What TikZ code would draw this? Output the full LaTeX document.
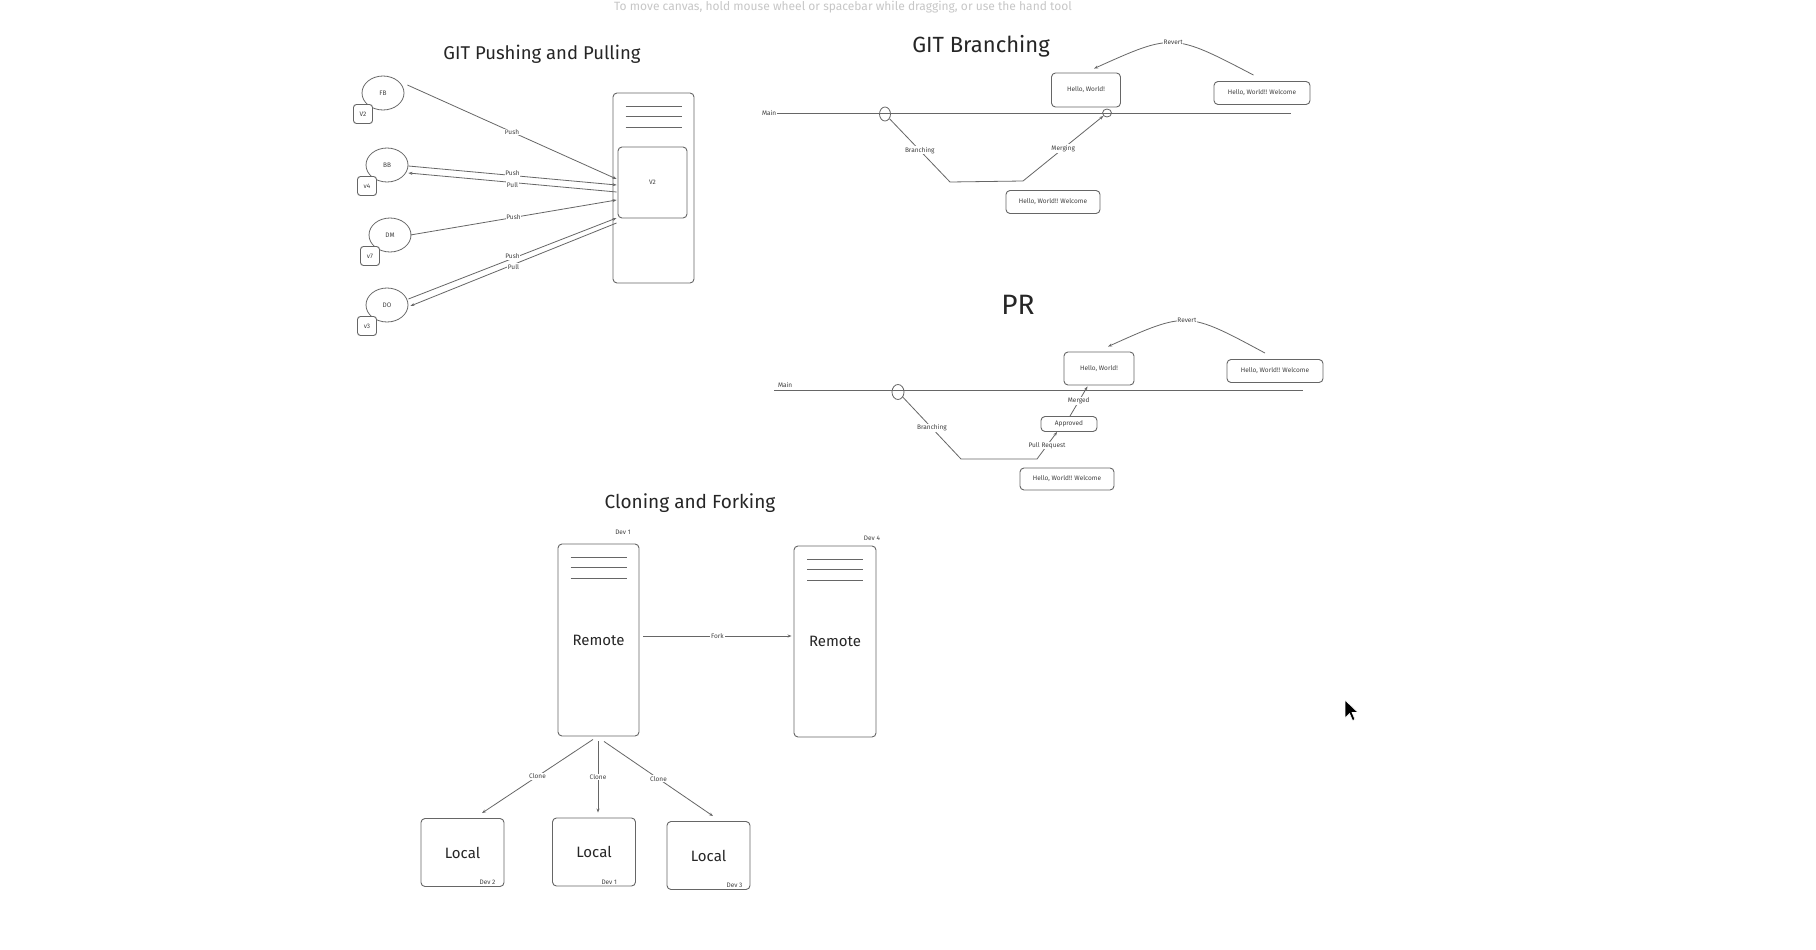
\documentclass[tikz,border=0pt]{standalone}
\usepackage{fontspec}
\setmainfont{Fira Sans}
\usetikzlibrary{calc, positioning, arrows.meta, shapes.geometric}

\tikzset{
    sketch/.style={draw=black!60, line width=0.9pt, rounded corners=4pt, inner sep=1pt},
    blob/.style={draw=black!60, line width=0.8pt, ellipse, inner sep=0pt},
    wire/.style={draw=black!60, line width=0.8pt},
    arr/.style={wire, -{Stealth[length=4pt, width=3pt]}},
    tiny/.style={font=\fontsize{6.5}{7}\selectfont, text=black!75, inner sep=0.8pt},
    lbl/.style={tiny, fill=white},
    title/.style={font=\fontsize{18.5}{20}\selectfont, text=black!85},
    big/.style={font=\fontsize{15}{17}\selectfont, text=black!85},
}

\begin{document}
\begin{tikzpicture}[x=1pt, y=-1pt]
        \fill[white] (0,0) rectangle (1816,950);
        \useasboundingbox (0,0) rectangle (1816,950);

        \node[font=\fontsize{12}{14}\selectfont, text=black!22] (hint) at (843,7) {To move canvas, hold mouse wheel or spacebar while dragging, or use the hand tool};

        % pushing and pulling
        \node[title] (tpush) at (542,54) {GIT Pushing and Pulling};
        \node[sketch, minimum width=81, minimum height=190] (srv) at (653.5,188) {};
        \node[sketch, tiny, minimum width=69, minimum height=71] (v2) at (652.5,182.5) {V2};
        \foreach \nm/\lab/\ver/\x/\y in {fb/FB/V2/383/93, bb/BB/v4/387/165, dm/DM/v7/390/235, do/DO/v3/387/305}
        {
            \node[blob, tiny, minimum width=42, minimum height=34] (\nm) at (\x,\y) {\lab};
            \node[sketch, tiny, fill=white, rounded corners=3pt, minimum size=19] (\nm ver) at (\x-20,\y+21) {\ver};
        }

        % lines and text
        \draw[arr] ($(fb.east)+(3,-8)$) -- node[lbl] {Push} ($(v2.west)+(-1,-3.5)$);
        \draw[arr] ($(bb.east)+(0,1)$) -- node[lbl, above=-1.5pt] {Push} ($(v2.west)+(-1,2.5)$);
        \draw[arr] ($(v2.west)+(-1,9.5)$) -- node[lbl, below=-1.5pt] {Pull} ($(bb.east)+(0,8)$);
        \draw[arr] ($(dm.east)+(-1,0)$) -- node[lbl] {Push} ($(v2.west)+(-1,17.5)$);
        \draw[arr] ($(do.east)+(0,-6)$) -- node[lbl, above=-1.5pt] {Push} ($(v2.west)+(-1,35.5)$);
        \draw[arr] ($(v2.west)+(-1,40.5)$) -- node[lbl, below=-1.5pt] {Pull} ($(do.east)+(2,1)$);

        % branching
        \node[title, font=\fontsize{22}{24}\selectfont] (tbranch) at (981,46) {GIT Branching};
        \coordinate (bmainA) at (761,113);
        \coordinate (bmainB) at (1291,113);
        \draw[wire] (bmainA) -- (bmainB);
        \node[tiny, fill=white, anchor=west] (bmain) at (bmainA) {Main};
        \node[blob, minimum width=11, minimum height=14] (bc1) at (885,114) {};
        \node[blob, minimum width=9, minimum height=8] (bc2) at (1107,113) {};
        \coordinate (bbot1) at (950,182);
        \coordinate (bbot2) at (1023,181);
        \draw[arr] (bc1) -- node[lbl] {Branching} (bbot1) -- (bbot2) -- node[lbl] {Merging} (bc2);
        \node[sketch, tiny, minimum width=69, minimum height=34] (bhw) at (1086,90) {Hello, World!};
        \node[sketch, tiny, minimum width=96, minimum height=23] (bhwr) at (1262,93) {Hello, World!! Welcome};
        \node[sketch, tiny, minimum width=94, minimum height=23] (bhwb) at (1053,202) {Hello, World!! Welcome};
        \draw[arr] ($(bhwr.north)+(-8.5,-6)$) .. controls (1173,33) .. ($(bhw.north)+(8,-4)$) node[lbl, pos=0.5] {Revert};

        % PR
        \node[title, font=\fontsize{28}{30}\selectfont] (tpr) at (1018,305) {PR};
        \coordinate (pmainA) at (774,390);
        \coordinate (pmainB) at (1303,390);
        \draw[wire] (pmainA) -- (pmainB);
        \node[tiny, anchor=south west] (pmain) at ($(pmainA)+(3,-1)$) {Main};
        \node[blob, minimum width=12, minimum height=15] (pc1) at (898,392) {};
        \coordinate (pbot1) at (961,459);
        \coordinate (pbot2) at (1037,459);
        \node[sketch, tiny, minimum width=56, minimum height=15] (papp) at (1069,424) {Approved};
        \draw[arr] (pc1) -- node[lbl] {Branching} (pbot1) -- (pbot2) -- node[lbl] {Pull Request} ($(papp.south west)+(16.5,0)$);
        \node[sketch, tiny, minimum width=70, minimum height=33] (phw) at (1099,368.5) {Hello, World!};
        \node[sketch, tiny, minimum width=96, minimum height=23] (phwr) at (1275,371) {Hello, World!! Welcome};
        \node[sketch, tiny, minimum width=94, minimum height=22] (phwb) at (1067,479) {Hello, World!! Welcome};
        \draw[arr] ($(papp.north)+(1,0)$) -- node[lbl] {Merged} ($(phw.south)+(-11.5,1)$);
        \draw[arr] ($(phwr.north)+(-10,-6)$) .. controls (1187,311) .. ($(phw.north)+(9,-5)$) node[lbl, pos=0.5] {Revert};

        % cloning and forking
        \node[title, font=\fontsize{19}{21}\selectfont] (tclone) at (690,503) {Cloning and Forking};
        \node[sketch, big, minimum width=81, minimum height=192] (r1) at (598.5,640) {Remote};
        \node[sketch, big, minimum width=82, minimum height=191] (r2) at (835,641.5) {Remote};
        \node[tiny] (r1dev) at (623,532) {Dev 1};
        \node[tiny] (r2dev) at (872,538) {Dev 4};
        \foreach \r in {srv,r1,r2}
        {
            \foreach \d in {14,24,35}
            {
                \draw[wire] ($(\r.north)+(-28,\d)$) -- ($(\r.north)+(28,\d)$);
            }
        }
        \draw[arr] ($(r1.east)+(4,-4)$) -- node[lbl] {Fork} ($(r2.west)+(-2,-5.5)$);
        \foreach \nm/\x/\y/\dv/\off in {l1/462.5/852.5/2/-8, l2/594/852/1/-18, l3/708.5/855.5/3/-7}
        {
            \node[sketch, big, minimum width=83, minimum height=68] (\nm) at (\x,\y) {Local};
            \node[tiny, anchor=south east] (\nm dev) at ($(\nm.south east)+(\off,-1)$) {Dev \dv};
        }
        \draw[arr] ($(r1.south)+(-5.5,3)$) -- node[lbl] {Clone} ($(l1.north)+(19.5,-5)$);
        \draw[arr] ($(r1.south)+(-0.5,5)$) -- node[lbl] {Clone} ($(l2.north)+(4,-5)$);
        \draw[arr] ($(r1.south)+(5.5,5)$) -- node[lbl] {Clone} ($(l3.north)+(4.5,-5)$);

        % pointer
        \draw[fill=black, draw=white, line width=0.6pt] (1345,700) -- ++(0,18) -- ++(4.5,-4.5) -- ++(3,7) -- ++(2.5,-1) -- ++(-3,-7) -- ++(6,0) -- cycle;
    \end{tikzpicture}
\end{document}
